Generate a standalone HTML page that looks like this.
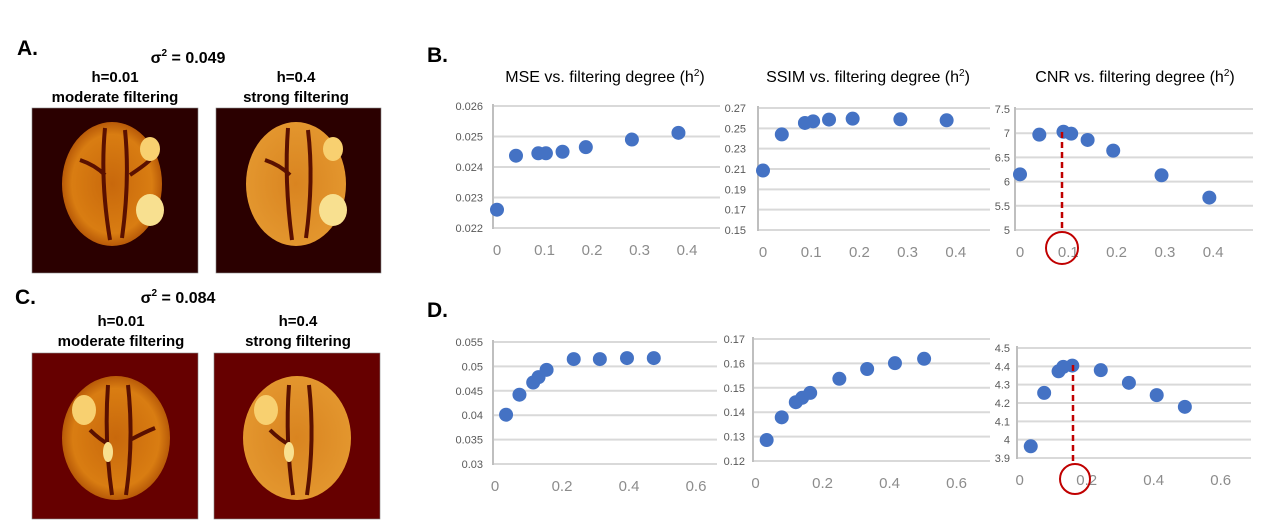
<!DOCTYPE html>
<html><head><meta charset="utf-8"><style>
html,body{margin:0;padding:0;background:#fff;}
body{width:1265px;height:532px;overflow:hidden;position:relative;font-family:"Liberation Sans",sans-serif;}
svg{position:absolute;left:0;top:0;}
</style></head><body>
<svg id="fig" width="1265" height="532" viewBox="0 0 1265 532">
<defs>
<radialGradient id="brainA" cx="50%" cy="50%" r="50%"><stop offset="0" stop-color="#c8680c"/><stop offset="0.8" stop-color="#d97d12"/><stop offset="1" stop-color="#b85a08"/></radialGradient>
<radialGradient id="brainB" cx="50%" cy="50%" r="50%"><stop offset="0" stop-color="#d98420"/><stop offset="1" stop-color="#e3962e"/></radialGradient>
</defs>
<g font-family="Liberation Sans, sans-serif" font-weight="bold" fill="#000">
<text x="17" y="55" font-size="21">A.</text>
<text x="427" y="62" font-size="21">B.</text>
<text x="15" y="304" font-size="21">C.</text>
<text x="427" y="317" font-size="21">D.</text>
<text x="188" y="63" font-size="16" text-anchor="middle">σ<tspan font-size="10" dy="-7">2</tspan><tspan dy="7"> = 0.049</tspan></text>
<text x="115" y="82" font-size="15" text-anchor="middle">h=0.01</text>
<text x="115" y="102" font-size="15" text-anchor="middle">moderate filtering</text>
<text x="296" y="82" font-size="15" text-anchor="middle">h=0.4</text>
<text x="296" y="102" font-size="15" text-anchor="middle">strong filtering</text>
<text x="178" y="303" font-size="16" text-anchor="middle">σ<tspan font-size="10" dy="-7">2</tspan><tspan dy="7"> = 0.084</tspan></text>
<text x="121" y="326" font-size="15" text-anchor="middle">h=0.01</text>
<text x="121" y="346" font-size="15" text-anchor="middle">moderate filtering</text>
<text x="298" y="326" font-size="15" text-anchor="middle">h=0.4</text>
<text x="298" y="346" font-size="15" text-anchor="middle">strong filtering</text>
</g>
<g font-family="Liberation Sans, sans-serif" font-size="16" fill="#000" text-anchor="middle">
<text x="605" y="82">MSE vs. filtering degree (h<tspan font-size="10" dy="-6">2</tspan><tspan dy="6">)</tspan></text>
<text x="868" y="82">SSIM vs. filtering degree (h<tspan font-size="10" dy="-6">2</tspan><tspan dy="6">)</tspan></text>
<text x="1135" y="82">CNR vs. filtering degree (h<tspan font-size="10" dy="-6">2</tspan><tspan dy="6">)</tspan></text>
</g>
<g>
<rect x="32" y="108" width="166" height="165" fill="#2b0000" stroke="#888" stroke-width="0.6"/>
<ellipse cx="112" cy="184" rx="50" ry="62" fill="url(#brainA)"/>
<path d="M105 128 Q100 180 110 240 M125 130 Q130 180 122 238 M80 160 Q95 165 105 175 M130 175 Q145 165 150 160" stroke="#5a1000" stroke-width="4" fill="none"/>
<ellipse cx="150" cy="149" rx="10" ry="12" fill="#f8d070"/>
<ellipse cx="150" cy="210" rx="14" ry="16" fill="#f8e090"/>
</g>
<g>
<rect x="216" y="108" width="165" height="165" fill="#2b0000" stroke="#888" stroke-width="0.6"/>
<ellipse cx="296" cy="184" rx="50" ry="62" fill="url(#brainB)"/>
<path d="M288 128 Q284 180 292 240 M308 130 Q314 180 306 238 M265 160 Q280 165 290 175" stroke="#5a1000" stroke-width="4" fill="none"/>
<ellipse cx="333" cy="149" rx="10" ry="12" fill="#f8d070"/>
<ellipse cx="333" cy="210" rx="14" ry="16" fill="#f8e090"/>
</g>
<g>
<rect x="32" y="353" width="166" height="166" fill="#660000" stroke="#888" stroke-width="0.6"/>
<ellipse cx="116" cy="438" rx="54" ry="62" fill="url(#brainA)"/>
<path d="M108 385 Q104 440 112 495 M128 385 Q134 440 126 495 M90 430 Q100 440 110 445 M130 440 Q145 432 155 428" stroke="#5a1000" stroke-width="4" fill="none"/>
<ellipse cx="84" cy="410" rx="12" ry="15" fill="#f8d070"/>
<ellipse cx="108" cy="452" rx="5" ry="10" fill="#f8e090"/>
</g>
<g>
<rect x="214" y="353" width="166" height="166" fill="#660000" stroke="#888" stroke-width="0.6"/>
<ellipse cx="297" cy="438" rx="54" ry="62" fill="url(#brainB)"/>
<path d="M289 385 Q285 440 293 495 M309 385 Q315 440 307 495 M270 430 Q280 440 290 445" stroke="#5a1000" stroke-width="4" fill="none"/>
<ellipse cx="266" cy="410" rx="12" ry="15" fill="#f8d070"/>
<ellipse cx="289" cy="452" rx="5" ry="10" fill="#f8e090"/>
</g>
<g id="charts"></g>
<g>
<line x1="1062" y1="132" x2="1062" y2="232" stroke="#c00000" stroke-width="2.5" stroke-dasharray="6,4"/>
<circle cx="1062" cy="248" r="16" fill="none" stroke="#c00000" stroke-width="2"/>
</g>
<g>
<line x1="1073" y1="365" x2="1073" y2="463" stroke="#c00000" stroke-width="2.5" stroke-dasharray="6,4"/>
<circle cx="1075" cy="479" r="15" fill="none" stroke="#c00000" stroke-width="2"/>
</g>
</svg>
<script>
const bMseX = [0, 0.040, 0.087, 0.103, 0.138, 0.187, 0.284, 0.382];
const bMseY = [0.0226, 0.02437, 0.02445, 0.02445, 0.0245, 0.02465, 0.0249, 0.02512];
const bSsimX = [0, 0.039, 0.087, 0.104, 0.137, 0.186, 0.285, 0.381];
const bSsimY = [0.2085, 0.244, 0.2553, 0.2569, 0.2586, 0.2595, 0.2589, 0.2579];
const bCnrX = [0, 0.040, 0.090, 0.106, 0.140, 0.193, 0.293, 0.392];
const bCnrY = [6.15, 6.97, 7.03, 6.99, 6.86, 6.64, 6.13, 5.67];
const dMseX = [0.033, 0.073, 0.114, 0.130, 0.154, 0.235, 0.313, 0.394, 0.474];
const dMseY = [0.0401, 0.0442, 0.0467, 0.0478, 0.0493, 0.0515, 0.0515, 0.0517, 0.0517];
const dSsimX = [0.033, 0.078, 0.120, 0.139, 0.163, 0.250, 0.333, 0.416, 0.503];
const dSsimY = [0.1286, 0.1379, 0.1441, 0.1459, 0.1479, 0.1537, 0.1577, 0.1601, 0.1619];
const dCnrX = [0.033, 0.073, 0.116, 0.130, 0.157, 0.242, 0.326, 0.409, 0.493];
const dCnrY = [3.964, 4.255, 4.373, 4.397, 4.404, 4.379, 4.31, 4.243, 4.179];
const bXTicks = [0, 0.1, 0.2, 0.3, 0.4];
const bXLabels = ["0", "0.1", "0.2", "0.3", "0.4"];
const dXTicks = [0, 0.2, 0.4, 0.6];
const dXLabels = ["0", "0.2", "0.4", "0.6"];
const bMseTicks = ["0.022", "0.023", "0.024", "0.025", "0.026"];
const bSsimTicks = ["0.15", "0.17", "0.19", "0.21", "0.23", "0.25", "0.27"];
const bCnrTicks = ["5", "5.5", "6", "6.5", "7", "7.5"];
const dMseTicks = ["0.03", "0.035", "0.04", "0.045", "0.05", "0.055"];
const dSsimTicks = ["0.12", "0.13", "0.14", "0.15", "0.16", "0.17"];
const dCnrTicks = ["3.9", "4", "4.1", "4.2", "4.3", "4.4", "4.5"];

const NS = "http://www.w3.org/2000/svg";
const root = document.getElementById("charts");
function mk(tag, attrs, parent) {
  const e = document.createElementNS(NS, tag);
  for (const k in attrs) e.setAttribute(k, attrs[k]);
  parent.appendChild(e);
  return e;
}
function chart(name, cfg, xs, ys, yTicks, xTicks, xLabels) {
  const g = mk("g", {}, root);
  
  
  const yVals = yTicks.map(Number);
  const yMin = yVals[0], yMax = yVals[yVals.length - 1];
  const sy = v => cfg.bottom - (v - yMin) / (yMax - yMin) * (cfg.bottom - cfg.top);
  const sx = v => cfg.x0 + v * cfg.xs;
  yTicks.forEach((t, i) => {
    const y = sy(yVals[i]);
    const gl = mk("line", {x1: cfg.left, x2: cfg.right, y1: y, y2: y, stroke: "#d9d9d9", "stroke-width": 2}, g);
    
    
    const tl = mk("text", {x: cfg.labX, y: y + 4, "font-size": 11, fill: "#595959", "text-anchor": "end", "font-family": "Liberation Sans, sans-serif"}, g);
    tl.textContent = t;
    
    
  });
  const ax = mk("line", {x1: cfg.left, x2: cfg.left, y1: cfg.top - 2, y2: cfg.bottom + 1, stroke: "#bfbfbf", "stroke-width": 2}, g);
  
  
  xTicks.forEach((t, i) => {
    const xl = mk("text", {x: sx(t), y: cfg.bottom + 27, "font-size": 15, fill: "#8c8c8c", "text-anchor": "middle", "font-family": "Liberation Sans, sans-serif"}, g);
    xl.textContent = xLabels[i];
    
    
  });
  xs.forEach((x, i) => {
    const c = mk("circle", {cx: sx(x), cy: sy(ys[i]), r: 7, fill: "#4472c4"}, g);
    
    
  });
}
chart("mse-chart-b", {left: 493, right: 720, top: 106, bottom: 228, labX: 483, x0: 497, xs: 475}, bMseX, bMseY, bMseTicks, bXTicks, bXLabels);
chart("ssim-chart-b", {left: 758, right: 990, top: 108, bottom: 230, labX: 746, x0: 763, xs: 482}, bSsimX, bSsimY, bSsimTicks, bXTicks, bXLabels);
chart("cnr-chart-b", {left: 1015, right: 1253, top: 109, bottom: 230, labX: 1010, x0: 1020, xs: 483}, bCnrX, bCnrY, bCnrTicks, bXTicks, bXLabels);
chart("mse-chart-d", {left: 493, right: 717, top: 342, bottom: 464, labX: 483, x0: 495, xs: 335}, dMseX, dMseY, dMseTicks, dXTicks, dXLabels);
chart("ssim-chart-d", {left: 753, right: 990, top: 339, bottom: 461, labX: 745, x0: 755.6, xs: 335}, dSsimX, dSsimY, dSsimTicks, dXTicks, dXLabels);
chart("cnr-chart-d", {left: 1017, right: 1251, top: 348, bottom: 458, labX: 1010, x0: 1019.7, xs: 335}, dCnrX, dCnrY, dCnrTicks, dXTicks, dXLabels);
</script>
</body></html>
